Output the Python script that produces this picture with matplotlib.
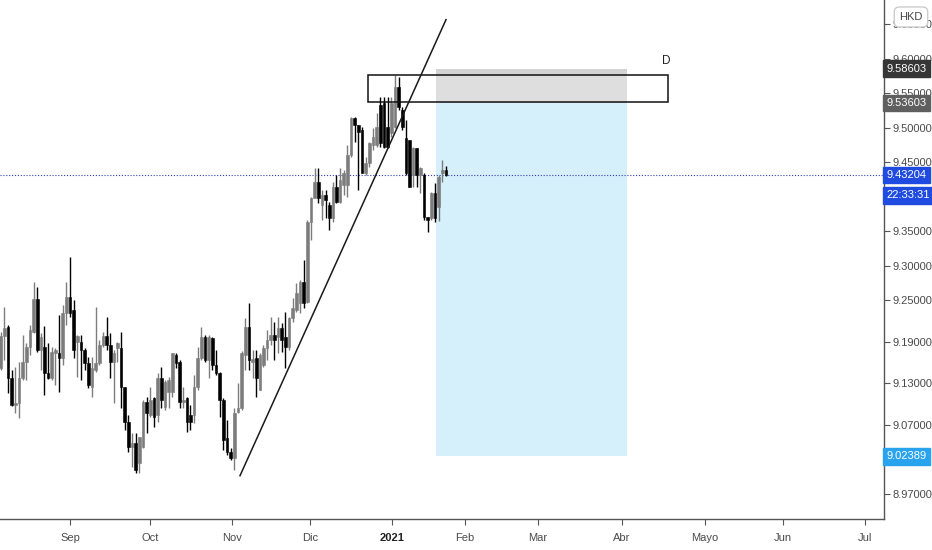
import matplotlib
matplotlib.use("Agg")
import matplotlib.pyplot as plt
from matplotlib.patches import Rectangle
import matplotlib.transforms as mtransforms
import numpy as np

plt.rcParams['font.family'] = ['Liberation Sans', 'DejaVu Sans']

# daily candles, USD/HKD style
opens = [9.152, 9.199, 9.212, 9.138, 9.099, 9.101, 9.138, 9.161, 9.183, 9.204,
         9.252, 9.178, 9.183, 9.145, 9.138, 9.174, 9.174, 9.167, 9.232, 9.255,
         9.236, 9.190, 9.190, 9.178, 9.159, 9.125, 9.149, 9.159, 9.186, 9.199,
         9.186, 9.161, 9.181, 9.181, 9.125, 9.074, 9.038, 9.043, 9.014, 9.038,
         9.103, 9.084, 9.109, 9.084, 9.138, 9.096, 9.117, 9.117, 9.171, 9.161,
         9.103, 9.109, 9.084, 9.084, 9.125, 9.167, 9.197, 9.164, 9.196, 9.157,
         9.145, 9.106, 9.051, 9.030, 9.022, 9.088, 9.094, 9.171, 9.212, 9.161,
         9.167, 9.120, 9.157, 9.181, 9.193, 9.200, 9.197, 9.210, 9.197, 9.183,
         9.225, 9.236, 9.246, 9.277, 9.248, 9.364, 9.399, 9.422, 9.388, 9.403,
         9.388, 9.370, 9.415, 9.393, 9.417, 9.417, 9.461, 9.514, 9.504, 9.497,
         9.435, 9.449, 9.475, 9.475, 9.533, 9.536, 9.501, 9.493, 9.501, 9.559,
         9.526, 9.485, 9.483, 9.432, 9.471, 9.432, 9.432, 9.371, 9.370, 9.406,
         9.386, 9.435, 9.439]
highs = [9.205, 9.241, 9.214, 9.149, 9.154, 9.161, 9.200, 9.188, 9.214, 9.277,
         9.270, 9.203, 9.213, 9.188, 9.183, 9.181, 9.229, 9.243, 9.277, 9.313,
         9.251, 9.200, 9.200, 9.181, 9.168, 9.168, 9.241, 9.193, 9.204, 9.226,
         9.203, 9.178, 9.190, 9.204, 9.125, 9.084, 9.058, 9.058, 9.052, 9.106,
         9.110, 9.125, 9.110, 9.145, 9.154, 9.135, 9.139, 9.174, 9.174, 9.164,
         9.125, 9.110, 9.099, 9.142, 9.183, 9.212, 9.200, 9.200, 9.197, 9.178,
         9.146, 9.109, 9.077, 9.036, 9.094, 9.130, 9.177, 9.225, 9.246, 9.178,
         9.178, 9.174, 9.186, 9.207, 9.226, 9.219, 9.226, 9.217, 9.233, 9.226,
         9.254, 9.275, 9.280, 9.309, 9.367, 9.400, 9.442, 9.442, 9.410, 9.410,
         9.393, 9.422, 9.432, 9.442, 9.439, 9.475, 9.516, 9.516, 9.504, 9.501,
         9.458, 9.480, 9.500, 9.522, 9.545, 9.545, 9.545, 9.545, 9.577, 9.574,
         9.530, 9.512, 9.483, 9.472, 9.471, 9.443, 9.435, 9.371, 9.407, 9.420,
         9.432, 9.454, 9.445]
lows = [9.149, 9.164, 9.116, 9.097, 9.087, 9.080, 9.135, 9.135, 9.171, 9.203,
        9.176, 9.149, 9.113, 9.136, 9.135, 9.128, 9.117, 9.157, 9.214, 9.226,
        9.167, 9.139, 9.135, 9.149, 9.123, 9.110, 9.146, 9.157, 9.183, 9.178,
        9.138, 9.101, 9.161, 9.094, 9.062, 9.030, 9.009, 9.000, 9.000, 9.036,
        9.058, 9.081, 9.067, 9.074, 9.094, 9.091, 9.094, 9.110, 9.152, 9.094,
        9.094, 9.059, 9.062, 9.072, 9.120, 9.164, 9.161, 9.138, 9.149, 9.142,
        9.081, 9.033, 9.026, 9.019, 9.004, 9.087, 9.091, 9.149, 9.149, 9.138,
        9.110, 9.120, 9.154, 9.164, 9.186, 9.164, 9.174, 9.175, 9.152, 9.178,
        9.219, 9.233, 9.232, 9.239, 9.246, 9.338, 9.399, 9.391, 9.367, 9.370,
        9.352, 9.364, 9.391, 9.391, 9.403, 9.400, 9.458, 9.480, 9.410, 9.435,
        9.432, 9.443, 9.468, 9.472, 9.472, 9.471, 9.471, 9.487, 9.500, 9.526,
        9.497, 9.432, 9.414, 9.414, 9.414, 9.406, 9.367, 9.349, 9.367, 9.364,
        9.365, 9.422, 9.430]
closes = [9.199, 9.210, 9.138, 9.099, 9.101, 9.138, 9.161, 9.183, 9.207, 9.252,
          9.178, 9.197, 9.145, 9.138, 9.175, 9.178, 9.167, 9.232, 9.255, 9.232,
          9.178, 9.199, 9.178, 9.159, 9.128, 9.152, 9.159, 9.186, 9.199, 9.186,
          9.161, 9.174, 9.188, 9.125, 9.074, 9.038, 9.043, 9.004, 9.052, 9.103,
          9.087, 9.106, 9.081, 9.138, 9.106, 9.132, 9.135, 9.174, 9.159, 9.103,
          9.106, 9.074, 9.074, 9.125, 9.167, 9.197, 9.164, 9.197, 9.157, 9.145,
          9.106, 9.048, 9.030, 9.022, 9.087, 9.094, 9.174, 9.212, 9.164, 9.165,
          9.138, 9.171, 9.181, 9.193, 9.200, 9.193, 9.210, 9.193, 9.183, 9.225,
          9.239, 9.261, 9.277, 9.246, 9.364, 9.399, 9.422, 9.399, 9.403, 9.396,
          9.370, 9.415, 9.393, 9.425, 9.435, 9.461, 9.514, 9.504, 9.494, 9.435,
          9.449, 9.478, 9.487, 9.501, 9.478, 9.472, 9.472, 9.536, 9.559, 9.530,
          9.501, 9.435, 9.414, 9.471, 9.432, 9.442, 9.371, 9.367, 9.406, 9.370,
          9.429, 9.439, 9.432]

month_labels = ['Sep', 'Oct', 'Nov', 'Dic', '2021', 'Feb', 'Mar', 'Abr', 'Mayo', 'Jun', 'Jul']
month_pos = [19.0, 40.9, 63.4, 84.7, 107.2, 127.2, 147.2, 170.2, 193.0, 214.3, 236.8]
price_ticks = [9.65, 9.60, 9.55, 9.50, 9.45, 9.40, 9.35, 9.30, 9.25, 9.19, 9.13, 9.07, 8.97]

last_price = 9.43204
stop_price = 9.58603
entry_price = 9.53603
target_price = 9.02389
countdown = '22:33:31'

# drawings
trend_x = [65.56, 122.0]
trend_y = [8.996, 9.657]
zone_x0, zone_x1 = 100.6, 182.8
zone_y0, zone_y1 = 9.538, 9.577
pos_x0, pos_x1 = 119.3, 171.6

fig = plt.figure(figsize=(9.32, 5.5), dpi=100)
ax = fig.add_axes([0, 31 / 550, 884 / 932, 519 / 550])
ax.set_xlim(-0.19, 242.0)
ax.set_ylim(8.9333, 9.6855)

# short position tool: gray stop area and blue target area
ax.add_patch(Rectangle((pos_x0, entry_price), pos_x1 - pos_x0, stop_price - entry_price,
                       facecolor='#d3d3d3', edgecolor='none', zorder=1))
ax.add_patch(Rectangle((pos_x0, target_price), pos_x1 - pos_x0, entry_price - target_price,
                       facecolor='#d5effb', edgecolor='none', zorder=1))

# candles
x = np.arange(len(closes))
o = np.array(opens)
c = np.array(closes)
up = c >= o
cols = np.where(up, '#7c7c7c', '#000000')
ax.vlines(x, lows, highs, colors=cols, linewidth=1.0, zorder=3)
body_lo = np.minimum(o, c)
body_h = np.maximum(np.abs(c - o), 0.003)
ax.bar(x, body_h, bottom=body_lo, width=0.72, color=cols, edgecolor=cols,
       linewidth=0.4, zorder=4)

# supply zone box and trendline
ax.add_patch(Rectangle((zone_x0, zone_y0), zone_x1 - zone_x0, zone_y1 - zone_y0,
                       facecolor='white', alpha=0.25, edgecolor='none', zorder=2))
ax.add_patch(Rectangle((zone_x0, zone_y0), zone_x1 - zone_x0, zone_y1 - zone_y0,
                       facecolor='none', edgecolor='#111111', linewidth=1.1, zorder=5))
ax.text(182.3, 9.597, 'D', ha='center', va='center', fontsize=8.5, color='#222222')
ax.plot(trend_x, trend_y, color='#1a1a1a', linewidth=1.1, zorder=6)

# last price line
ax.axhline(last_price, color='#2f3fb8', linestyle=(0, (1, 1.6)), linewidth=0.8, zorder=2)

# axes styling
for s in ['left', 'top']:
    ax.spines[s].set_visible(False)
for s in ['right', 'bottom']:
    ax.spines[s].set_color('#555555')
    ax.spines[s].set_linewidth(1.0)
ax.yaxis.tick_right()
ax.set_yticks(price_ticks)
ax.set_yticklabels(['%.5f' % p for p in price_ticks])
ax.tick_params(axis='y', direction='out', length=4, width=0.8, color='#555555',
               labelsize=8, labelcolor='#4a4a4a', pad=2)
ax.set_xticks(month_pos)
ax.set_xticklabels(month_labels)
ax.tick_params(axis='x', direction='out', length=4, width=0.8, color='#555555',
               labelsize=8, labelcolor='#4a4a4a', pad=6)
ax.get_xticklabels()[4].set_fontweight('bold')
ax.get_xticklabels()[4].set_color('#222222')

# price labels on the scale
trans = mtransforms.blended_transform_factory(ax.transAxes, ax.transData)


def scale_label(price, text, color, dy=0.0):
    ax.text(1.003, price + dy, text, transform=trans, ha='left', va='center',
            fontsize=8, color='white', clip_on=False, zorder=10,
            bbox=dict(boxstyle='square,pad=0.3', facecolor=color, edgecolor=color))


scale_label(stop_price, '9.58603', '#363636')
scale_label(entry_price, '9.53603', '#5f5f5f')
scale_label(last_price, '9.43204', '#1f4be0')
scale_label(last_price, countdown, '#1f4be0', dy=-0.0295)
scale_label(target_price, '9.02389', '#2aa3ee')

# currency badge
fig.text(911 / 932, 1 - 17 / 550, 'HKD', ha='center', va='center', fontsize=8,
         color='#444444', zorder=10,
         bbox=dict(boxstyle='round,pad=0.45', facecolor='white', edgecolor='#cccccc'))

fig.savefig('out.png', dpi=100, facecolor='white')
